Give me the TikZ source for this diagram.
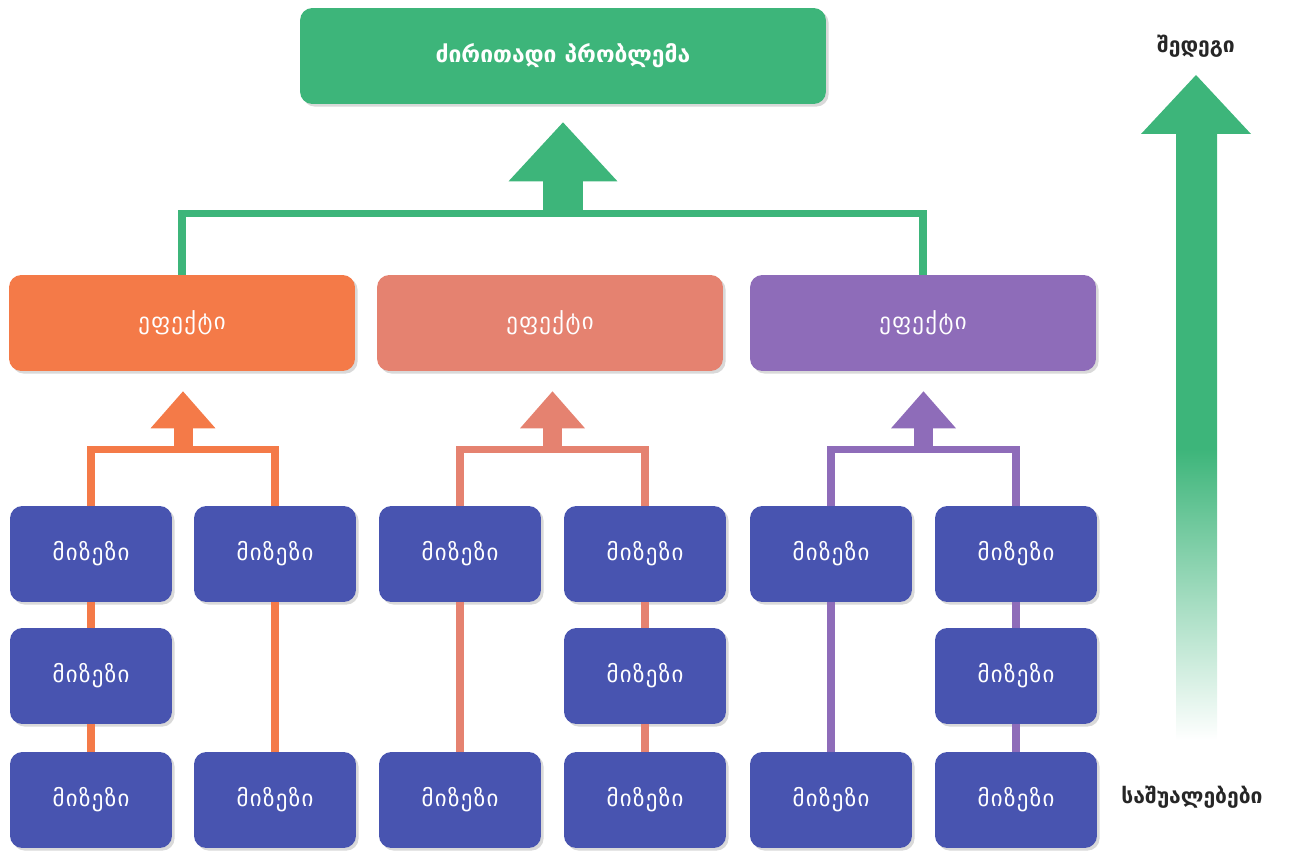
\documentclass[tikz,border=0pt]{standalone}
\usepackage{fontspec}
\setmainfont{DejaVu Sans}
\newfontfamily\geofont[LetterSpace=6]{DejaVu Sans}
\usepackage{xcolor}
\usepackage{tikz}
\usetikzlibrary{arrows.meta}
\usetikzlibrary{shapes,calc,positioning,shadows}

\definecolor{probgreen}{HTML}{3DB57A}
\definecolor{effOrange}{HTML}{F47A48}
\definecolor{effSalmon}{HTML}{E58270}
\definecolor{effPurple}{HTML}{8E6CB9}
\definecolor{causeBlue}{HTML}{4854B0}
\pgfdeclareverticalshading{shaftfade}{100bp}{color(0bp)=(white); color(25bp)=(white);
	color(36bp)=(probgreen!45); color(49bp)=(probgreen); color(100bp)=(probgreen)}

\begin{document}
\begin{tikzpicture}[
	x=0.02cm, y=-0.02cm,
	box/.style = {shape=rectangle, rounded corners=7pt, align=center,
	text=white, font=\fontsize{13}{15}\geofont,
	drop shadow={shadow xshift=1.5pt, shadow yshift=-1.5pt, opacity=0.3}},
	problem/.style={box, fill=probgreen, minimum width=10.52cm, minimum height=1.92cm,
	font=\fontsize{13}{15}\selectfont\bfseries},
	effect/.style={box, minimum width=6.92cm, minimum height=1.92cm},
	cause/.style={box, fill=causeBlue, minimum width=3.24cm, minimum height=1.92cm},
	sidetext/.style={text=black!85, font=\fontsize{12}{14}\selectfont\bfseries},
	link/.style={draw, line width=0.15cm},
	blockarr/.style={line width=0.38cm,
	-{Triangle[width=1.3cm, length=0.74cm, line width=0pt]}},
	bigarr/.style={line width=0.8cm,
	-{Triangle[width=2.18cm, length=1.18cm, line width=0pt]}}
]
\useasboundingbox (0,0) rectangle (1305,858);

\node[problem] (prob) at (563,56) {ძირითადი პრობლემა};

\node[effect, fill=effOrange] (e1) at (182,323) {ეფექტი};
\node[effect, fill=effSalmon] (e2) at (550,323) {ეფექტი};
\node[effect, fill=effPurple] (e3) at (923,323) {ეფექტი};

\node[cause] (c11) at (91,554) {მიზეზი};
\node[cause] (c12) at (91,676) {მიზეზი};
\node[cause] (c13) at (91,800) {მიზეზი};
\node[cause] (c21) at (275,554) {მიზეზი};
\node[cause] (c23) at (275,800) {მიზეზი};
\node[cause] (c31) at (460,554) {მიზეზი};
\node[cause] (c33) at (460,800) {მიზეზი};
\node[cause] (c41) at (645,554) {მიზეზი};
\node[cause] (c42) at (645,676) {მიზეზი};
\node[cause] (c43) at (645,800) {მიზეზი};
\node[cause] (c51) at (831,554) {მიზეზი};
\node[cause] (c53) at (831,800) {მიზეზი};
\node[cause] (c61) at (1016,554) {მიზეზი};
\node[cause] (c62) at (1016,676) {მიზეზი};
\node[cause] (c63) at (1016,800) {მიზეზი};

\coordinate (j0) at ($(prob.south)+(0,109)$);
\coordinate (t0) at ($(prob.south)+(0,18)$);
\coordinate (j1) at ($(c11.north)!0.5!(c21.north)+(0,-56)$);
\coordinate (j2) at ($(c31.north)!0.5!(c41.north)+(0,-56)$);
\coordinate (j3) at ($(c51.north)!0.5!(c61.north)+(0,-56)$);

\draw[link, probgreen] (e1.north) |- (j0) -| (e3.north);
\draw[bigarr, probgreen] (j0) -- (t0);

\draw[link, effOrange] (c11.north) |- (j1) -| (c21.north);
\draw[blockarr, effOrange] (j1) -- ($(j1 |- e1.south)+(0,20)$);
\draw[link, effOrange] (c11) -- (c12) -- (c13);
\draw[link, effOrange] (c21) -- (c23);

\draw[link, effSalmon] (c31.north) |- (j2) -| (c41.north);
\draw[blockarr, effSalmon] (j2) -- ($(j2 |- e2.south)+(0,20)$);
\draw[link, effSalmon] (c31) -- (c33);
\draw[link, effSalmon] (c41) -- (c42) -- (c43);

\draw[link, effPurple] (c51.north) |- (j3) -| (c61.north);
\draw[blockarr, effPurple] (j3) -- ($(j3 |- e3.south)+(0,20)$);
\draw[link, effPurple] (c51) -- (c53);
\draw[link, effPurple] (c61) -- (c62) -- (c63);

\node[sidetext] (outc) at (1196,46) {შედეგი};
\node[sidetext] (means) at (1192,797) {საშუალებები};
\shade[shading=shaftfade] (1176,133) rectangle (1217,740);
\fill[probgreen] (1141,134) -- (1196,75) -- (1251,134) -- cycle;
\end{tikzpicture}
\end{document}
